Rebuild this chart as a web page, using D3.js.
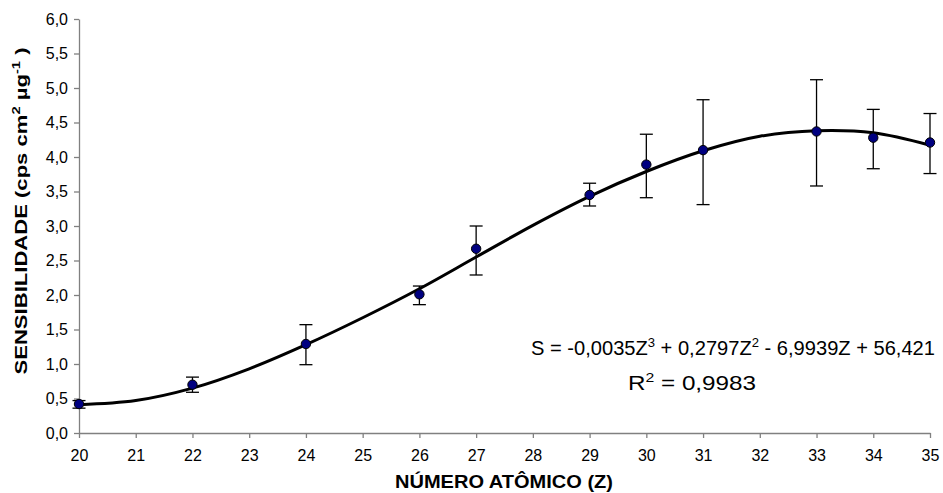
<!DOCTYPE html>
<html lang="pt">
<head>
  <meta charset="UTF-8">
  <title>Sensibilidade vs número atômico</title>
  <script src="https://d3js.org/d3.v7.min.js"></script>
  <style>
    body { margin: 0; background: #fff; }
    text { font-family: "Liberation Sans", Arial, sans-serif; fill: #000; }
    .axis path, .axis line { stroke: #808080; stroke-width: 1.3px; }
    .axis text { font-size: 16px; }
    .title { font-weight: bold; }
    .eq { font-size: 20px; }
  </style>
</head>
<body>
  <svg width="943" height="493"></svg>
  <script>
    // measured points (Z, sensitivity, error bar low/high)
    const zPoints = [20, 22, 24, 26, 27, 29, 30, 31, 33, 34, 35];
    const sValues = [0.42, 0.70, 1.29, 2.01, 2.67, 3.45, 3.89, 4.10, 4.37, 4.28, 4.21];
    const errLow  = [0.36, 0.59, 0.99, 1.86, 2.29, 3.29, 3.41, 3.31, 3.58, 3.83, 3.76];
    const errHigh = [0.47, 0.81, 1.57, 2.13, 3.00, 3.62, 4.33, 4.83, 5.12, 4.69, 4.63];

    // trend line at each integer Z
    const zCurve = [20, 21, 22, 23, 24, 25, 26, 27, 28, 29, 30, 31, 32, 33, 34, 35];
    const sCurve = [0.41, 0.47, 0.65, 0.93, 1.28, 1.67, 2.09, 2.55, 3.01, 3.43, 3.79, 4.09, 4.30, 4.38, 4.35, 4.17];

    const xTicks = d3.range(20, 36, 1);
    const yTicks = d3.range(0, 6.01, 0.5);

    const svg = d3.select("svg");
    const plotL = 79, plotR = 930, plotT = 19, plotB = 433;

    const x = d3.scaleLinear().domain([20, 35]).range([plotL, plotR]);
    const y = d3.scaleLinear().domain([0, 6]).range([plotB, plotT]);
    const fmt = d => d3.format(".1f")(d).replace(".", ",");

    svg.append("g")
      .attr("class", "axis")
      .attr("transform", `translate(0,${plotB})`)
      .call(d3.axisBottom(x).tickValues(xTicks).tickSize(5).tickSizeOuter(0).tickPadding(12).tickFormat(d3.format("d")));

    svg.append("g")
      .attr("class", "axis")
      .attr("transform", `translate(${plotL},0)`)
      .call(d3.axisLeft(y).tickValues(yTicks).tickSize(5).tickSizeOuter(0).tickPadding(6).tickFormat(fmt));

    // trend line
    const line = d3.line()
      .x((d, i) => x(zCurve[i]))
      .y(d => y(d))
      .curve(d3.curveCatmullRom);
    svg.append("path")
      .datum(sCurve)
      .attr("d", line)
      .attr("fill", "none")
      .attr("stroke", "#000")
      .attr("stroke-width", 3);

    // error bars
    const bars = svg.append("g").attr("stroke", "#000").attr("stroke-width", 1.3);
    zPoints.forEach((z, i) => {
      const cx = x(z);
      bars.append("line").attr("x1", cx).attr("x2", cx).attr("y1", y(errLow[i])).attr("y2", y(errHigh[i]));
      bars.append("line").attr("x1", cx - 6.5).attr("x2", cx + 6.5).attr("y1", y(errLow[i])).attr("y2", y(errLow[i]));
      bars.append("line").attr("x1", cx - 6.5).attr("x2", cx + 6.5).attr("y1", y(errHigh[i])).attr("y2", y(errHigh[i]));
    });

    // markers
    svg.append("g").selectAll("circle")
      .data(sValues)
      .join("circle")
      .attr("cx", (d, i) => x(zPoints[i]))
      .attr("cy", d => y(d))
      .attr("r", 4.7)
      .attr("fill", "#000080")
      .attr("stroke", "#000")
      .attr("stroke-width", 1);

    // equation
    const eq = svg.append("text").attr("class", "eq").attr("x", 531).attr("y", 355)
      .attr("textLength", 404).attr("lengthAdjust", "spacingAndGlyphs");
    eq.append("tspan").text("S = -0,0035Z");
    eq.append("tspan").attr("dy", -8).attr("font-size", "13px").text("3");
    eq.append("tspan").attr("dy", 8).text(" + 0,2797Z");
    eq.append("tspan").attr("dy", -8).attr("font-size", "13px").text("2");
    eq.append("tspan").attr("dy", 8).text(" - 6,9939Z + 56,421");

    const r2 = svg.append("text").attr("class", "eq").attr("x", 628).attr("y", 390)
      .attr("textLength", 128).attr("lengthAdjust", "spacingAndGlyphs");
    r2.append("tspan").text("R");
    r2.append("tspan").attr("dy", -8).attr("font-size", "13px").text("2");
    r2.append("tspan").attr("dy", 8).text(" = 0,9983");

    // axis titles
    svg.append("text").attr("class", "title")
      .attr("x", 504).attr("y", 488)
      .attr("font-size", "19px")
      .attr("text-anchor", "middle")
      .attr("textLength", 218).attr("lengthAdjust", "spacingAndGlyphs")
      .text("NÚMERO ATÔMICO (Z)");

    const yt = svg.append("text").attr("class", "title")
      .attr("transform", "translate(27,211) rotate(-90)")
      .attr("font-size", "16.5px")
      .attr("text-anchor", "middle")
      .attr("textLength", 327).attr("lengthAdjust", "spacingAndGlyphs");
    yt.append("tspan").text("SENSIBILIDADE (cps cm");
    yt.append("tspan").attr("dy", -7).attr("font-size", "11px").text("2");
    yt.append("tspan").attr("dy", 7).text(" µg");
    yt.append("tspan").attr("dy", -7).attr("font-size", "11px").text("-1");
    yt.append("tspan").attr("dy", 7).text(" )");
  </script>
</body>
</html>
